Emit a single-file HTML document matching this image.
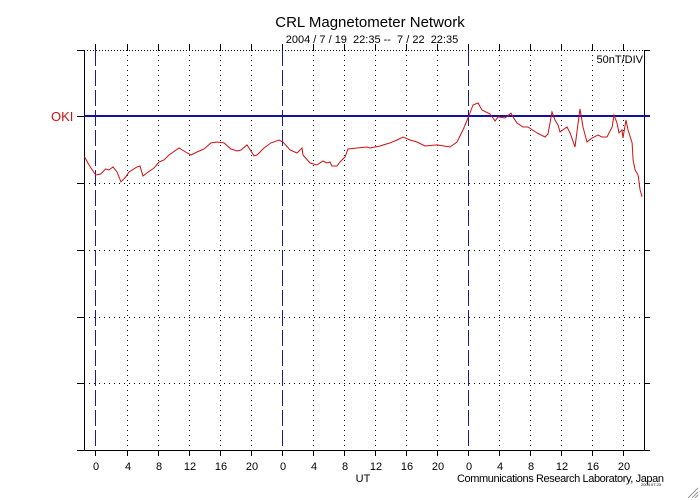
<!DOCTYPE html>
<html><head><meta charset="utf-8"><style>
html,body{margin:0;padding:0;background:#fff;}
svg{display:block;font-family:"Liberation Sans",sans-serif;}
line{shape-rendering:crispEdges;}
</style></head><body>
<svg id="chart" width="700" height="500" viewBox="0 0 700 500"></svg>
<script>
const hours=[0,0.58,1.44,2.09,2.73,3.16,3.67,4.19,4.7,5.31,5.73,6.76,7.15,7.53,8.05,8.95,9.6,10.24,10.88,12.17,12.82,13.72,14.49,15.39,16.29,17.07,17.97,18.87,19.64,20.16,20.93,21.83,22.22,23.12,24.02,25.05,25.57,26.47,27.37,28.01,28.14,29.04,29.94,30.71,31.23,31.62,31.87,32.52,32.91,33.55,33.94,35.1,36.39,36.77,38.06,39.35,40.25,41.02,41.92,42.83,43.86,45.4,47.08,47.98,48.75,49.4,50.04,50.68,51.2,52.23,52.62,52.88,53.26,54.16,54.94,55.19,55.71,56.48,57.12,58.28,59.31,59.7,60.21,60.6,60.99,61.25,62.15,62.54,63.18,63.57,63.82,64.21,64.72,65.37,66.14,66.66,67.3,67.95,68.2,68.59,68.85,69.23,69.36,69.75,70.01,70.53,70.66,70.92,71.3,71.56,71.82];
const nT=[-30.4,-36.6,-44,-43.3,-39.5,-40.3,-38,-41.8,-49.2,-45.5,-41.8,-38,-37.3,-44.8,-42.5,-38.8,-34.3,-32.8,-29.1,-23.9,-26.1,-29.1,-26.9,-24.6,-20.1,-19.4,-20.1,-24.6,-26.1,-25.4,-21.6,-29.8,-29.1,-23.9,-20.1,-17.9,-19.4,-25.4,-27.6,-23.9,-29.1,-35.1,-36.6,-33.6,-35.1,-34.3,-37.3,-37.3,-34.3,-30.6,-24.6,-23.9,-23.1,-23.9,-22.4,-20.1,-17.9,-15.7,-17.9,-19.4,-22.4,-21.6,-23.1,-19.4,-10.4,-1.5,8.2,9.7,4.5,1.5,-1.5,-3.7,-0.7,-1.5,2.2,-0.7,-5.2,-8.2,-8.2,-12.7,-15.7,-13.4,3,-3,-6.7,-11.9,-8.2,-12.7,-23.1,-5.2,5.2,-8.2,-19.4,-16.4,-14.2,-15.7,-15.7,-8.2,0.7,-5.2,-12.7,-10.4,-16.4,-3,-10.4,-20.1,-32.8,-40.3,-44,-55.2,-60.4];
const tickLabels=["0","4","8","12","16","20","0","4","8","12","16","20","0","4","8","12","16","20"];
const firstMidnight=1.4167;
const NS="http://www.w3.org/2000/svg";
const svg=document.getElementById('chart');
const L=84,R=644,T=50,B=450,Y0=116,pxPerNT=67/50;
const xs=h=>L+0.5+h*(R-L-1)/72;
const ys=v=>Y0-v*pxPerNT;
function mk(tag,at,parent){const e=document.createElementNS(NS,tag);for(const k in at)e.setAttribute(k,at[k]);(parent||svg).appendChild(e);return e;}
[183,250,317,383].forEach(y=>{
 const g=mk('line',{x1:L,x2:R,y1:y+0.5,y2:y+0.5,stroke:'#000','stroke-width':1,'stroke-dasharray':'1,4'});
 
 
});
const tb=mk('line',{x1:L,x2:R,y1:T+0.5,y2:T+0.5,stroke:'#000','stroke-width':1,'stroke-dasharray':'1,2'});


tickLabels.forEach((lab,i)=>{
 const x=Math.round(xs(firstMidnight+i*4))+0.5;
 const day=i%6===0;
 mk('line',{x1:x,x2:x,y1:T-6,y2:T,stroke:'#000'});
 mk('line',{x1:x,x2:x,y1:B,y2:B+6,stroke:'#000'});
 const v=mk('line',{x1:x,x2:x,y1:T,y2:B,stroke:day?'#1a1aa0':'#000','stroke-width':1,'stroke-dasharray':day?'16,4':'1,4'});
 
 
 const t=mk('text',{x:x+0.5,y:470,'font-size':11,'text-anchor':'middle',fill:'#000'});
 t.textContent=lab;
 
 
});
[50,116,183,250,317,383,450].forEach(y=>{
 mk('line',{x1:L-7,x2:L,y1:y+0.5,y2:y+0.5,stroke:'#000'});
 mk('line',{x1:R,x2:R+6,y1:y+0.5,y2:y+0.5,stroke:'#000'});
});
const la=mk('line',{x1:L+0.5,x2:L+0.5,y1:T,y2:B,stroke:'#000','stroke-width':1});


const ra=mk('line',{x1:R+0.5,x2:R+0.5,y1:T,y2:B,stroke:'#000','stroke-width':1});


const ba=mk('line',{x1:L-6,x2:R+5,y1:B+0.5,y2:B+0.5,stroke:'#000','stroke-width':1});


const bl=mk('line',{x1:L,x2:R+6,y1:Y0,y2:Y0,stroke:'#1010a8','stroke-width':2});


const p=mk('polyline',{points:hours.map((h,i)=>xs(h).toFixed(1)+','+ys(nT[i]).toFixed(1)).join(' '),fill:'none',stroke:'#d01010','stroke-width':1});


function txt(s,at,name){const t=mk('text',at);t.textContent=s;return t;}
txt('CRL Magnetometer Network',{x:370,y:27,'font-size':15,'text-anchor':'middle'},'chart-title');
txt('2004 / 7 / 19\u00a0\u00a022:35 --\u00a0\u00a07 / 22\u00a0\u00a022:35',{x:372,y:43,'font-size':11,'text-anchor':'middle'},'date-range');
txt('50nT/DIV',{x:643,y:63,'font-size':11,'text-anchor':'end'},'scale-label');
txt('OKI',{x:51,y:121,'font-size':13,fill:'#d01010'},'station-label');
txt('UT',{x:363,y:482,'font-size':11,'text-anchor':'middle'},'x-axis-title');
txt('Communications Research Laboratory, Japan',{x:457,y:482,'font-size':11,textLength:207},'credit');
txt('2004.07.23',{x:641,y:486,'font-size':4},'timestamp');
[[698,488,688,498],[698,492,692,498],[698,495,695,498]].forEach(c=>mk('line',{x1:c[0],y1:c[1],x2:c[2],y2:c[3],stroke:'#999'}));
</script>
</body></html>
